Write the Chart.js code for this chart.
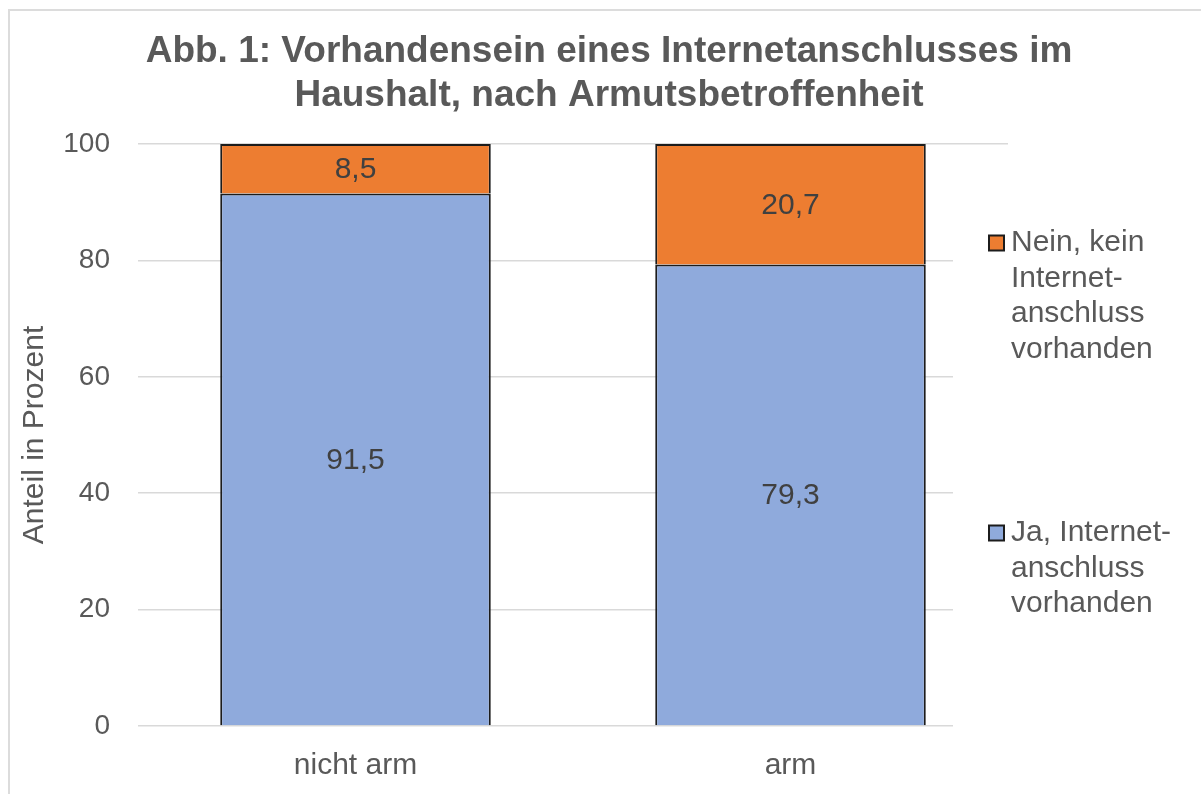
<!DOCTYPE html>
<html lang="de">
<head>
    <meta charset="UTF-8">
    <title>Abb. 1: Internetanschluss nach Armutsbetroffenheit</title>
    <style>
        body {
            margin: 0;
            background: #ffffff;
            font-family: "Liberation Sans", Arial, sans-serif;
        }
        .frame {
            position: absolute;
            left: 8px;
            top: 9px;
            width: 1300px;
            height: 900px;
            border-left: 2px solid #dcdcdc;
            border-top: 2px solid #dcdcdc;
        }
        .chart-box {
            position: absolute;
            left: 0;
            top: 0;
            width: 1201px;
            height: 794px;
        }
    </style>
</head>
<body>

<div class="frame"></div>
<div class="chart-box">
    <canvas id="internetChart" width="1201" height="794"></canvas>
</div>

<script src="https://cdn.jsdelivr.net/npm/chart.js"></script>
<script>
    // Chart data
    const categories = ['nicht arm', 'arm'];
    const jaValues = [91.5, 79.3];
    const neinValues = [8.5, 20.7];
    const yTicks = [0, 20, 40, 60, 80, 100];

    const titleLines = [
        'Abb. 1: Vorhandensein eines Internetanschlusses im',
        'Haushalt, nach Armutsbetroffenheit'
    ];
    const yAxisTitle = 'Anteil in Prozent';
    const neinLegendLines = ['Nein, kein', 'Internet-', 'anschluss', 'vorhanden'];
    const jaLegendLines = ['Ja, Internet-', 'anschluss', 'vorhanden'];

    const FONT = '"Liberation Sans", Arial, sans-serif';
    const TEXT = '#595959';
    const BLUE = '#8faadc';
    const ORANGE = '#ed7d31';
    const EDGE = '#1c1c1c';

    // values written in the middle of each segment, German decimal comma
    const segmentLabels = {
        id: 'segmentLabels',
        afterDatasetsDraw(chart) {
            const ctx = chart.ctx;
            ctx.save();
            ctx.font = '30px ' + FONT;
            ctx.fillStyle = '#404040';
            ctx.textAlign = 'center';
            ctx.textBaseline = 'middle';
            chart.data.datasets.forEach((ds, i) => {
                chart.getDatasetMeta(i).data.forEach((bar, j) => {
                    const txt = ds.data[j].toFixed(1).replace('.', ',');
                    ctx.fillText(txt, bar.x, (bar.y + bar.base) / 2 + 1);
                });
            });
            ctx.restore();
        }
    };

    // title and the wrapped legend on the right, like the original
    const titleAndLegend = {
        id: 'titleAndLegend',
        beforeDatasetsDraw(chart) {
            // the legend box sits over the right end of the gridlines
            const ctx = chart.ctx;
            ctx.save();
            ctx.fillStyle = '#ffffff';
            ctx.fillRect(953, 160, 248, 600);
            ctx.restore();
        },
        afterDraw(chart) {
            const ctx = chart.ctx;
            ctx.save();
            ctx.fillStyle = TEXT;
            ctx.textAlign = 'center';
            ctx.textBaseline = 'middle';
            ctx.font = 'bold 37px ' + FONT;
            titleLines.forEach((line, i) => ctx.fillText(line, 609, 52 + i * 44));

            const drawEntry = (color, lines, mid) => {
                ctx.fillStyle = color;
                ctx.fillRect(989, mid - 7.5, 15, 15);
                ctx.strokeStyle = EDGE;
                ctx.lineWidth = 2;
                ctx.strokeRect(989, mid - 7.5, 15, 15);
                ctx.fillStyle = TEXT;
                ctx.textAlign = 'left';
                ctx.font = '30px ' + FONT;
                lines.forEach((line, i) => ctx.fillText(line, 1011, mid + i * 35.5));
            };
            drawEntry(ORANGE, neinLegendLines, 243);
            drawEntry(BLUE, jaLegendLines, 533);
            ctx.restore();
        }
    };

    const config = {
        type: 'bar',
        data: {
            labels: categories,
            datasets: [
                {
                    label: jaLegendLines.join(' '),
                    data: jaValues,
                    backgroundColor: BLUE,
                    borderColor: EDGE,
                    borderWidth: 2,
                    barPercentage: 0.622,
                    categoryPercentage: 1
                },
                {
                    label: neinLegendLines.join(' '),
                    data: neinValues,
                    backgroundColor: ORANGE,
                    borderColor: EDGE,
                    borderWidth: 2,
                    barPercentage: 0.622,
                    categoryPercentage: 1
                }
            ]
        },
        options: {
            responsive: false,
            animation: false,
            layout: {
                padding: { left: 8, right: 193, top: 144, bottom: 0 }
            },
            plugins: {
                legend: { display: false },
                title: { display: false },
                tooltip: { enabled: false }
            },
            scales: {
                x: {
                    stacked: true,
                    grid: { display: false },
                    border: { display: false },
                    ticks: {
                        color: TEXT,
                        font: { family: FONT, size: 30 },
                        padding: 14
                    },
                    afterFit(scale) { scale.height = 68; }
                },
                y: {
                    stacked: true,
                    min: 0,
                    max: 100,
                    afterBuildTicks(scale) {
                        scale.ticks = yTicks.map(v => ({ value: v }));
                    },
                    grid: {
                        color: '#d9d9d9',
                        lineWidth: 1.5,
                        drawTicks: false
                    },
                    border: { display: false },
                    ticks: {
                        color: TEXT,
                        font: { family: FONT, size: 28 },
                        padding: 28
                    },
                    title: {
                        display: true,
                        text: yAxisTitle,
                        color: TEXT,
                        font: { family: FONT, size: 30 },
                        padding: { top: 9, bottom: 0 }
                    },
                    afterFit(scale) { scale.width = 130; }
                }
            }
        },
        plugins: [segmentLabels, titleAndLegend]
    };

    const internetChart = new Chart(document.getElementById('internetChart'), config);
</script>

</body>
</html>
